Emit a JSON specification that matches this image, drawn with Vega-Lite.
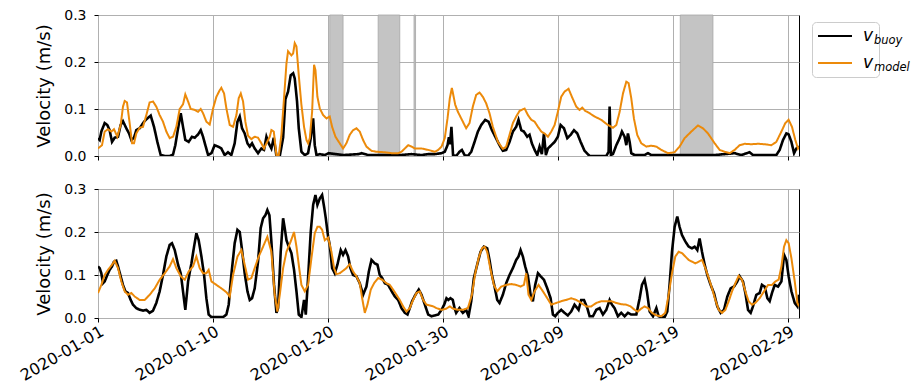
{
"$schema":"https://vega.github.io/schema/vega-lite/v6.json",
"padding":{"left":16,"top":7,"right":0,"bottom":0},
"config":{"font":"DejaVu Sans","view":{"stroke":"black","strokeWidth":1},
"axis":{"domain":false,"grid":true,"gridColor":"#b0b0b0","gridWidth":1,"tickColor":"black","tickSize":4,"labelColor":"black","titleColor":"black","labelFlush":false,"labelOverlap":false,"labelBound":false}},
"datasets":{
"gaps":[{"d0":20.14,"d1":21.3},{"d0":24.35,"d1":26.23},{"d0":27.47,"d1":27.6},{"d0":50.61,"d1":53.45}],
"top":[
{"s":"buoy","d":0,"v":0.038},{"s":"buoy","d":0.145,"v":0.034},{"s":"buoy","d":0.29,"v":0.052},{"s":"buoy","d":0.58,"v":0.07},{"s":"buoy","d":0.81,"v":0.066},{"s":"buoy","d":1.01,"v":0.055},{"s":"buoy","d":1.22,"v":0.03},{"s":"buoy","d":1.45,"v":0.039},{"s":"buoy","d":1.74,"v":0.041},{"s":"buoy","d":1.97,"v":0.066},{"s":"buoy","d":2.17,"v":0.074},{"s":"buoy","d":2.46,"v":0.059},{"s":"buoy","d":2.7,"v":0.048},{"s":"buoy","d":2.9,"v":0.034},{"s":"buoy","d":3.13,"v":0.039},{"s":"buoy","d":3.33,"v":0.055},{"s":"buoy","d":3.62,"v":0.059},{"s":"buoy","d":4.0,"v":0.073},{"s":"buoy","d":4.29,"v":0.08},{"s":"buoy","d":4.58,"v":0.086},{"s":"buoy","d":4.87,"v":0.062},{"s":"buoy","d":5.16,"v":0.03},{"s":"buoy","d":5.45,"v":0.002},{"s":"buoy","d":5.8,"v":0},{"s":"buoy","d":6.23,"v":0},{"s":"buoy","d":6.52,"v":0.003},{"s":"buoy","d":6.72,"v":0.023},{"s":"buoy","d":6.96,"v":0.059},{"s":"buoy","d":7.19,"v":0.091},{"s":"buoy","d":7.39,"v":0.062},{"s":"buoy","d":7.59,"v":0.034},{"s":"buoy","d":7.88,"v":0.03},{"s":"buoy","d":8.17,"v":0.041},{"s":"buoy","d":8.41,"v":0.039},{"s":"buoy","d":8.7,"v":0.046},{"s":"buoy","d":8.93,"v":0.055},{"s":"buoy","d":9.13,"v":0.041},{"s":"buoy","d":9.33,"v":0.023},{"s":"buoy","d":9.57,"v":0.002},{"s":"buoy","d":9.86,"v":0.006},{"s":"buoy","d":10.14,"v":0.023},{"s":"buoy","d":10.43,"v":0.02},{"s":"buoy","d":10.72,"v":0.016},{"s":"buoy","d":11.01,"v":0.002},{"s":"buoy","d":11.3,"v":0.008},{"s":"buoy","d":11.59,"v":0.002},{"s":"buoy","d":11.88,"v":0.027},{"s":"buoy","d":12.12,"v":0.073},{"s":"buoy","d":12.32,"v":0.084},{"s":"buoy","d":12.52,"v":0.059},{"s":"buoy","d":12.75,"v":0.048},{"s":"buoy","d":12.99,"v":0.027},{"s":"buoy","d":13.19,"v":0.02},{"s":"buoy","d":13.39,"v":0.027},{"s":"buoy","d":13.62,"v":0.016},{"s":"buoy","d":13.91,"v":0.006},{"s":"buoy","d":14.2,"v":0.016},{"s":"buoy","d":14.43,"v":0.013},{"s":"buoy","d":14.64,"v":0.041},{"s":"buoy","d":14.84,"v":0.027},{"s":"buoy","d":15.07,"v":0.016},{"s":"buoy","d":15.28,"v":0.039},{"s":"buoy","d":15.51,"v":0},{"s":"buoy","d":15.8,"v":0},{"s":"buoy","d":16.09,"v":0.039},{"s":"buoy","d":16.29,"v":0.121},{"s":"buoy","d":16.52,"v":0.137},{"s":"buoy","d":16.75,"v":0.172},{"s":"buoy","d":16.96,"v":0.176},{"s":"buoy","d":17.1,"v":0.165},{"s":"buoy","d":17.3,"v":0.116},{"s":"buoy","d":17.45,"v":0.059},{"s":"buoy","d":17.68,"v":0.009},{"s":"buoy","d":17.97,"v":0.002},{"s":"buoy","d":18.26,"v":0.006},{"s":"buoy","d":18.49,"v":0.038},{"s":"buoy","d":18.7,"v":0.08},{"s":"buoy","d":18.84,"v":0.023},{"s":"buoy","d":18.99,"v":0.002},{"s":"buoy","d":19.28,"v":0.004},{"s":"buoy","d":19.71,"v":0.002},{"s":"buoy","d":20.05,"v":0.006},{"s":"buoy","d":21.35,"v":0.002},{"s":"buoy","d":22.61,"v":0.004},{"s":"buoy","d":22.9,"v":0.006},{"s":"buoy","d":23.48,"v":0.002},{"s":"buoy","d":24.3,"v":0.002},{"s":"buoy","d":26.3,"v":0.002},{"s":"buoy","d":27.25,"v":0.004},{"s":"buoy","d":28.12,"v":0.002},{"s":"buoy","d":28.7,"v":0.004},{"s":"buoy","d":29.28,"v":0.004},{"s":"buoy","d":29.86,"v":0.006},{"s":"buoy","d":30.14,"v":0.009},{"s":"buoy","d":30.38,"v":0.023},{"s":"buoy","d":30.5,"v":0.04},{"s":"buoy","d":30.6,"v":0.025},{"s":"buoy","d":30.72,"v":0.062},{"s":"buoy","d":30.86,"v":0.002},{"s":"buoy","d":31.13,"v":0},{"s":"buoy","d":31.42,"v":0.009},{"s":"buoy","d":31.63,"v":0.013},{"s":"buoy","d":31.86,"v":0.002},{"s":"buoy","d":32.15,"v":0},{"s":"buoy","d":32.44,"v":0.009},{"s":"buoy","d":32.73,"v":0.03},{"s":"buoy","d":33.02,"v":0.052},{"s":"buoy","d":33.31,"v":0.066},{"s":"buoy","d":33.66,"v":0.077},{"s":"buoy","d":33.95,"v":0.073},{"s":"buoy","d":34.24,"v":0.055},{"s":"buoy","d":34.53,"v":0.041},{"s":"buoy","d":34.9,"v":0.023},{"s":"buoy","d":35.19,"v":0.011},{"s":"buoy","d":35.48,"v":0.013},{"s":"buoy","d":35.77,"v":0.03},{"s":"buoy","d":36.06,"v":0.052},{"s":"buoy","d":36.35,"v":0.062},{"s":"buoy","d":36.55,"v":0.077},{"s":"buoy","d":36.79,"v":0.055},{"s":"buoy","d":37.02,"v":0.052},{"s":"buoy","d":37.31,"v":0.041},{"s":"buoy","d":37.51,"v":0.045},{"s":"buoy","d":37.71,"v":0.027},{"s":"buoy","d":37.95,"v":0.013},{"s":"buoy","d":38.18,"v":0.002},{"s":"buoy","d":38.38,"v":0.02},{"s":"buoy","d":38.58,"v":0.004},{"s":"buoy","d":38.76,"v":0.048},{"s":"buoy","d":38.93,"v":0.002},{"s":"buoy","d":39.11,"v":0.016},{"s":"buoy","d":39.4,"v":0.023},{"s":"buoy","d":39.69,"v":0.03},{"s":"buoy","d":39.97,"v":0.041},{"s":"buoy","d":40.21,"v":0.066},{"s":"buoy","d":40.5,"v":0.059},{"s":"buoy","d":40.79,"v":0.038},{"s":"buoy","d":41.08,"v":0.045},{"s":"buoy","d":41.37,"v":0.055},{"s":"buoy","d":41.66,"v":0.048},{"s":"buoy","d":41.95,"v":0.03},{"s":"buoy","d":42.29,"v":0.011},{"s":"buoy","d":42.73,"v":0},{"s":"buoy","d":43.45,"v":0},{"s":"buoy","d":44.18,"v":0},{"s":"buoy","d":44.38,"v":0.009},{"s":"buoy","d":44.47,"v":0.105},{"s":"buoy","d":44.58,"v":0.002},{"s":"buoy","d":44.76,"v":0.004},{"s":"buoy","d":45.05,"v":0.023},{"s":"buoy","d":45.34,"v":0.038},{"s":"buoy","d":45.54,"v":0.052},{"s":"buoy","d":45.77,"v":0.041},{"s":"buoy","d":45.92,"v":0.023},{"s":"buoy","d":46.06,"v":0.048},{"s":"buoy","d":46.21,"v":0.03},{"s":"buoy","d":46.35,"v":0.006},{"s":"buoy","d":46.64,"v":0.002},{"s":"buoy","d":47.51,"v":0.002},{"s":"buoy","d":47.8,"v":0.006},{"s":"buoy","d":48.09,"v":0.002},{"s":"buoy","d":49.54,"v":0.002},{"s":"buoy","d":50.5,"v":0.002},{"s":"buoy","d":53.55,"v":0.002},{"s":"buoy","d":54.47,"v":0.004},{"s":"buoy","d":55.34,"v":0.006},{"s":"buoy","d":55.92,"v":0.002},{"s":"buoy","d":56.64,"v":0.008},{"s":"buoy","d":56.93,"v":0.002},{"s":"buoy","d":58.24,"v":0.002},{"s":"buoy","d":58.96,"v":0.002},{"s":"buoy","d":59.25,"v":0.013},{"s":"buoy","d":59.54,"v":0.034},{"s":"buoy","d":59.83,"v":0.048},{"s":"buoy","d":60.03,"v":0.046},{"s":"buoy","d":60.27,"v":0.03},{"s":"buoy","d":60.5,"v":0.006},{"s":"buoy","d":60.7,"v":0.016},{"s":"buoy","d":60.93,"v":0.02},
{"s":"model","d":0,"v":0.016},{"s":"model","d":0.348,"v":0.023},{"s":"model","d":0.58,"v":0.052},{"s":"model","d":0.87,"v":0.057},{"s":"model","d":1.16,"v":0.052},{"s":"model","d":1.39,"v":0.057},{"s":"model","d":1.68,"v":0.041},{"s":"model","d":1.97,"v":0.066},{"s":"model","d":2.17,"v":0.105},{"s":"model","d":2.32,"v":0.117},{"s":"model","d":2.52,"v":0.114},{"s":"model","d":2.75,"v":0.07},{"s":"model","d":2.96,"v":0.027},{"s":"model","d":3.13,"v":0.027},{"s":"model","d":3.33,"v":0.048},{"s":"model","d":3.62,"v":0.06},{"s":"model","d":3.91,"v":0.062},{"s":"model","d":4.2,"v":0.087},{"s":"model","d":4.49,"v":0.114},{"s":"model","d":4.78,"v":0.116},{"s":"model","d":5.07,"v":0.105},{"s":"model","d":5.36,"v":0.087},{"s":"model","d":5.65,"v":0.073},{"s":"model","d":5.94,"v":0.052},{"s":"model","d":6.23,"v":0.038},{"s":"model","d":6.52,"v":0.041},{"s":"model","d":6.81,"v":0.062},{"s":"model","d":7.1,"v":0.1},{"s":"model","d":7.39,"v":0.11},{"s":"model","d":7.59,"v":0.131},{"s":"model","d":7.83,"v":0.116},{"s":"model","d":8.06,"v":0.1},{"s":"model","d":8.41,"v":0.098},{"s":"model","d":8.7,"v":0.094},{"s":"model","d":8.93,"v":0.1},{"s":"model","d":9.13,"v":0.091},{"s":"model","d":9.42,"v":0.073},{"s":"model","d":9.71,"v":0.067},{"s":"model","d":10.0,"v":0.101},{"s":"model","d":10.29,"v":0.126},{"s":"model","d":10.58,"v":0.14},{"s":"model","d":10.72,"v":0.145},{"s":"model","d":10.96,"v":0.133},{"s":"model","d":11.16,"v":0.101},{"s":"model","d":11.45,"v":0.066},{"s":"model","d":11.74,"v":0.062},{"s":"model","d":12.03,"v":0.087},{"s":"model","d":12.23,"v":0.123},{"s":"model","d":12.41,"v":0.133},{"s":"model","d":12.61,"v":0.116},{"s":"model","d":12.81,"v":0.073},{"s":"model","d":13.04,"v":0.043},{"s":"model","d":13.33,"v":0.036},{"s":"model","d":13.62,"v":0.041},{"s":"model","d":13.91,"v":0.039},{"s":"model","d":14.2,"v":0.027},{"s":"model","d":14.43,"v":0.016},{"s":"model","d":14.64,"v":0.027},{"s":"model","d":14.93,"v":0.041},{"s":"model","d":15.07,"v":0.055},{"s":"model","d":15.28,"v":0.052},{"s":"model","d":15.51,"v":0.002},{"s":"model","d":15.71,"v":0.001},{"s":"model","d":15.94,"v":0.045},{"s":"model","d":16.17,"v":0.123},{"s":"model","d":16.38,"v":0.197},{"s":"model","d":16.52,"v":0.223},{"s":"model","d":16.81,"v":0.214},{"s":"model","d":16.96,"v":0.218},{"s":"model","d":17.1,"v":0.24},{"s":"model","d":17.25,"v":0.233},{"s":"model","d":17.45,"v":0.172},{"s":"model","d":17.68,"v":0.109},{"s":"model","d":17.91,"v":0.062},{"s":"model","d":18.12,"v":0.034},{"s":"model","d":18.26,"v":0.027},{"s":"model","d":18.41,"v":0.038},{"s":"model","d":18.61,"v":0.094},{"s":"model","d":18.78,"v":0.194},{"s":"model","d":18.9,"v":0.183},{"s":"model","d":19.07,"v":0.126},{"s":"model","d":19.28,"v":0.101},{"s":"model","d":19.57,"v":0.087},{"s":"model","d":19.86,"v":0.08},{"s":"model","d":20.14,"v":0.084},{"s":"model","d":20.35,"v":0.062},{"s":"model","d":20.64,"v":0.041},{"s":"model","d":21.01,"v":0.027},{"s":"model","d":21.3,"v":0.016},{"s":"model","d":21.59,"v":0.027},{"s":"model","d":21.88,"v":0.045},{"s":"model","d":22.17,"v":0.055},{"s":"model","d":22.46,"v":0.059},{"s":"model","d":22.75,"v":0.052},{"s":"model","d":23.04,"v":0.034},{"s":"model","d":23.33,"v":0.02},{"s":"model","d":23.77,"v":0.011},{"s":"model","d":24.2,"v":0.009},{"s":"model","d":24.93,"v":0.008},{"s":"model","d":25.51,"v":0.006},{"s":"model","d":26.09,"v":0.006},{"s":"model","d":26.38,"v":0.009},{"s":"model","d":26.67,"v":0.016},{"s":"model","d":26.96,"v":0.023},{"s":"model","d":27.25,"v":0.02},{"s":"model","d":27.54,"v":0.016},{"s":"model","d":28.12,"v":0.016},{"s":"model","d":28.7,"v":0.013},{"s":"model","d":29.28,"v":0.009},{"s":"model","d":29.57,"v":0.013},{"s":"model","d":29.86,"v":0.02},{"s":"model","d":30.14,"v":0.038},{"s":"model","d":30.38,"v":0.08},{"s":"model","d":30.58,"v":0.123},{"s":"model","d":30.76,"v":0.145},{"s":"model","d":31.05,"v":0.109},{"s":"model","d":31.28,"v":0.094},{"s":"model","d":31.57,"v":0.08},{"s":"model","d":32.0,"v":0.059},{"s":"model","d":32.29,"v":0.07},{"s":"model","d":32.58,"v":0.105},{"s":"model","d":32.87,"v":0.13},{"s":"model","d":33.16,"v":0.135},{"s":"model","d":33.45,"v":0.126},{"s":"model","d":33.74,"v":0.112},{"s":"model","d":34.03,"v":0.091},{"s":"model","d":34.32,"v":0.062},{"s":"model","d":34.76,"v":0.03},{"s":"model","d":35.19,"v":0.015},{"s":"model","d":35.48,"v":0.02},{"s":"model","d":35.77,"v":0.045},{"s":"model","d":36.06,"v":0.07},{"s":"model","d":36.35,"v":0.084},{"s":"model","d":36.64,"v":0.096},{"s":"model","d":37.08,"v":0.101},{"s":"model","d":37.37,"v":0.087},{"s":"model","d":37.66,"v":0.077},{"s":"model","d":37.95,"v":0.073},{"s":"model","d":38.24,"v":0.062},{"s":"model","d":38.53,"v":0.052},{"s":"model","d":38.82,"v":0.048},{"s":"model","d":39.11,"v":0.041},{"s":"model","d":39.4,"v":0.052},{"s":"model","d":39.69,"v":0.066},{"s":"model","d":39.97,"v":0.094},{"s":"model","d":40.26,"v":0.126},{"s":"model","d":40.55,"v":0.137},{"s":"model","d":40.9,"v":0.143},{"s":"model","d":41.19,"v":0.126},{"s":"model","d":41.57,"v":0.105},{"s":"model","d":41.86,"v":0.098},{"s":"model","d":42.09,"v":0.103},{"s":"model","d":42.35,"v":0.096},{"s":"model","d":42.73,"v":0.091},{"s":"model","d":43.16,"v":0.084},{"s":"model","d":43.74,"v":0.077},{"s":"model","d":44.32,"v":0.066},{"s":"model","d":44.76,"v":0.06},{"s":"model","d":45.05,"v":0.066},{"s":"model","d":45.34,"v":0.094},{"s":"model","d":45.63,"v":0.133},{"s":"model","d":45.92,"v":0.158},{"s":"model","d":46.12,"v":0.155},{"s":"model","d":46.35,"v":0.123},{"s":"model","d":46.58,"v":0.08},{"s":"model","d":46.87,"v":0.045},{"s":"model","d":47.22,"v":0.027},{"s":"model","d":47.66,"v":0.02},{"s":"model","d":48.09,"v":0.022},{"s":"model","d":48.53,"v":0.02},{"s":"model","d":48.96,"v":0.013},{"s":"model","d":49.54,"v":0.006},{"s":"model","d":50.12,"v":0.008},{"s":"model","d":50.55,"v":0.02},{"s":"model","d":50.99,"v":0.038},{"s":"model","d":51.57,"v":0.052},{"s":"model","d":52.15,"v":0.065},{"s":"model","d":52.58,"v":0.059},{"s":"model","d":53.02,"v":0.048},{"s":"model","d":53.6,"v":0.027},{"s":"model","d":54.03,"v":0.013},{"s":"model","d":54.47,"v":0.009},{"s":"model","d":54.9,"v":0.006},{"s":"model","d":55.34,"v":0.013},{"s":"model","d":55.77,"v":0.023},{"s":"model","d":56.21,"v":0.026},{"s":"model","d":56.79,"v":0.025},{"s":"model","d":57.37,"v":0.026},{"s":"model","d":57.95,"v":0.025},{"s":"model","d":58.53,"v":0.023},{"s":"model","d":58.96,"v":0.03},{"s":"model","d":59.4,"v":0.052},{"s":"model","d":59.74,"v":0.07},{"s":"model","d":60.03,"v":0.077},{"s":"model","d":60.32,"v":0.062},{"s":"model","d":60.61,"v":0.034},{"s":"model","d":60.84,"v":0.016},{"s":"model","d":60.93,"v":0.02}],
"bottom":[
{"s":"buoy","d":0,"v":0.12},{"s":"buoy","d":0.145,"v":0.116},{"s":"buoy","d":0.29,"v":0.104},{"s":"buoy","d":0.435,"v":0.081},{"s":"buoy","d":0.58,"v":0.085},{"s":"buoy","d":0.81,"v":0.1},{"s":"buoy","d":1.01,"v":0.112},{"s":"buoy","d":1.22,"v":0.12},{"s":"buoy","d":1.39,"v":0.131},{"s":"buoy","d":1.59,"v":0.133},{"s":"buoy","d":1.74,"v":0.12},{"s":"buoy","d":1.97,"v":0.097},{"s":"buoy","d":2.17,"v":0.077},{"s":"buoy","d":2.38,"v":0.062},{"s":"buoy","d":2.61,"v":0.058},{"s":"buoy","d":2.84,"v":0.042},{"s":"buoy","d":3.04,"v":0.031},{"s":"buoy","d":3.33,"v":0.023},{"s":"buoy","d":3.62,"v":0.019},{"s":"buoy","d":3.91,"v":0.017},{"s":"buoy","d":4.2,"v":0.019},{"s":"buoy","d":4.49,"v":0.012},{"s":"buoy","d":4.78,"v":0.017},{"s":"buoy","d":5.07,"v":0.035},{"s":"buoy","d":5.36,"v":0.062},{"s":"buoy","d":5.65,"v":0.1},{"s":"buoy","d":5.94,"v":0.143},{"s":"buoy","d":6.23,"v":0.17},{"s":"buoy","d":6.43,"v":0.174},{"s":"buoy","d":6.67,"v":0.158},{"s":"buoy","d":6.96,"v":0.124},{"s":"buoy","d":7.19,"v":0.104},{"s":"buoy","d":7.39,"v":0.062},{"s":"buoy","d":7.59,"v":0.019},{"s":"buoy","d":7.83,"v":0.085},{"s":"buoy","d":8.12,"v":0.127},{"s":"buoy","d":8.35,"v":0.166},{"s":"buoy","d":8.55,"v":0.197},{"s":"buoy","d":8.75,"v":0.181},{"s":"buoy","d":8.99,"v":0.143},{"s":"buoy","d":9.22,"v":0.1},{"s":"buoy","d":9.42,"v":0.046},{"s":"buoy","d":9.62,"v":0.008},{"s":"buoy","d":9.86,"v":0.002},{"s":"buoy","d":10.29,"v":0.002},{"s":"buoy","d":10.87,"v":0.002},{"s":"buoy","d":11.16,"v":0.008},{"s":"buoy","d":11.36,"v":0.031},{"s":"buoy","d":11.59,"v":0.1},{"s":"buoy","d":11.88,"v":0.174},{"s":"buoy","d":12.12,"v":0.205},{"s":"buoy","d":12.32,"v":0.2},{"s":"buoy","d":12.52,"v":0.158},{"s":"buoy","d":12.75,"v":0.104},{"s":"buoy","d":12.99,"v":0.062},{"s":"buoy","d":13.19,"v":0.042},{"s":"buoy","d":13.39,"v":0.046},{"s":"buoy","d":13.62,"v":0.069},{"s":"buoy","d":13.91,"v":0.131},{"s":"buoy","d":14.14,"v":0.209},{"s":"buoy","d":14.35,"v":0.232},{"s":"buoy","d":14.55,"v":0.239},{"s":"buoy","d":14.72,"v":0.251},{"s":"buoy","d":14.9,"v":0.239},{"s":"buoy","d":15.07,"v":0.178},{"s":"buoy","d":15.3,"v":0.077},{"s":"buoy","d":15.51,"v":0.012},{"s":"buoy","d":15.65,"v":0.023},{"s":"buoy","d":15.88,"v":0.154},{"s":"buoy","d":16.09,"v":0.232},{"s":"buoy","d":16.23,"v":0.209},{"s":"buoy","d":16.38,"v":0.181},{"s":"buoy","d":16.58,"v":0.166},{"s":"buoy","d":16.81,"v":0.151},{"s":"buoy","d":17.04,"v":0.112},{"s":"buoy","d":17.25,"v":0.062},{"s":"buoy","d":17.45,"v":0.008},{"s":"buoy","d":17.68,"v":0.002},{"s":"buoy","d":17.91,"v":0.042},{"s":"buoy","d":18.06,"v":0.008},{"s":"buoy","d":18.26,"v":0.093},{"s":"buoy","d":18.49,"v":0.2},{"s":"buoy","d":18.7,"v":0.263},{"s":"buoy","d":18.9,"v":0.286},{"s":"buoy","d":19.07,"v":0.263},{"s":"buoy","d":19.28,"v":0.278},{"s":"buoy","d":19.48,"v":0.286},{"s":"buoy","d":19.65,"v":0.259},{"s":"buoy","d":19.8,"v":0.232},{"s":"buoy","d":20.0,"v":0.189},{"s":"buoy","d":20.14,"v":0.17},{"s":"buoy","d":20.35,"v":0.116},{"s":"buoy","d":20.58,"v":0.104},{"s":"buoy","d":20.81,"v":0.124},{"s":"buoy","d":21.1,"v":0.158},{"s":"buoy","d":21.3,"v":0.147},{"s":"buoy","d":21.51,"v":0.158},{"s":"buoy","d":21.74,"v":0.143},{"s":"buoy","d":21.94,"v":0.116},{"s":"buoy","d":22.17,"v":0.1},{"s":"buoy","d":22.46,"v":0.097},{"s":"buoy","d":22.75,"v":0.081},{"s":"buoy","d":23.04,"v":0.054},{"s":"buoy","d":23.33,"v":0.073},{"s":"buoy","d":23.54,"v":0.108},{"s":"buoy","d":23.77,"v":0.135},{"s":"buoy","d":24.06,"v":0.127},{"s":"buoy","d":24.29,"v":0.124},{"s":"buoy","d":24.49,"v":0.1},{"s":"buoy","d":24.7,"v":0.093},{"s":"buoy","d":24.93,"v":0.081},{"s":"buoy","d":25.22,"v":0.077},{"s":"buoy","d":25.51,"v":0.063},{"s":"buoy","d":25.8,"v":0.05},{"s":"buoy","d":26.09,"v":0.042},{"s":"buoy","d":26.38,"v":0.023},{"s":"buoy","d":26.67,"v":0.012},{"s":"buoy","d":26.9,"v":0.008},{"s":"buoy","d":27.1,"v":0.023},{"s":"buoy","d":27.3,"v":0.039},{"s":"buoy","d":27.59,"v":0.054},{"s":"buoy","d":27.88,"v":0.066},{"s":"buoy","d":28.12,"v":0.054},{"s":"buoy","d":28.41,"v":0.031},{"s":"buoy","d":28.7,"v":0.008},{"s":"buoy","d":28.99,"v":0.004},{"s":"buoy","d":29.28,"v":0.006},{"s":"buoy","d":29.57,"v":0.008},{"s":"buoy","d":29.86,"v":0.019},{"s":"buoy","d":30.09,"v":0.031},{"s":"buoy","d":30.29,"v":0.046},{"s":"buoy","d":30.45,"v":0.042},{"s":"buoy","d":30.64,"v":0.046},{"s":"buoy","d":30.84,"v":0.042},{"s":"buoy","d":30.99,"v":0.023},{"s":"buoy","d":31.13,"v":0.012},{"s":"buoy","d":31.42,"v":0.023},{"s":"buoy","d":31.71,"v":0.012},{"s":"buoy","d":32.0,"v":0.019},{"s":"buoy","d":32.21,"v":0.004},{"s":"buoy","d":32.44,"v":0.039},{"s":"buoy","d":32.67,"v":0.093},{"s":"buoy","d":32.96,"v":0.124},{"s":"buoy","d":33.25,"v":0.154},{"s":"buoy","d":33.54,"v":0.166},{"s":"buoy","d":33.83,"v":0.162},{"s":"buoy","d":34.03,"v":0.135},{"s":"buoy","d":34.24,"v":0.1},{"s":"buoy","d":34.47,"v":0.073},{"s":"buoy","d":34.7,"v":0.042},{"s":"buoy","d":34.9,"v":0.035},{"s":"buoy","d":35.19,"v":0.054},{"s":"buoy","d":35.48,"v":0.081},{"s":"buoy","d":35.77,"v":0.1},{"s":"buoy","d":36.06,"v":0.116},{"s":"buoy","d":36.35,"v":0.135},{"s":"buoy","d":36.55,"v":0.143},{"s":"buoy","d":36.73,"v":0.158},{"s":"buoy","d":36.93,"v":0.143},{"s":"buoy","d":37.13,"v":0.12},{"s":"buoy","d":37.37,"v":0.097},{"s":"buoy","d":37.6,"v":0.054},{"s":"buoy","d":37.8,"v":0.039},{"s":"buoy","d":38.0,"v":0.077},{"s":"buoy","d":38.24,"v":0.104},{"s":"buoy","d":38.47,"v":0.097},{"s":"buoy","d":38.76,"v":0.089},{"s":"buoy","d":39.05,"v":0.069},{"s":"buoy","d":39.34,"v":0.046},{"s":"buoy","d":39.54,"v":0.008},{"s":"buoy","d":39.74,"v":0.004},{"s":"buoy","d":39.97,"v":0.012},{"s":"buoy","d":40.26,"v":0.019},{"s":"buoy","d":40.55,"v":0.012},{"s":"buoy","d":40.84,"v":0.006},{"s":"buoy","d":41.13,"v":0.015},{"s":"buoy","d":41.42,"v":0.031},{"s":"buoy","d":41.77,"v":0.019},{"s":"buoy","d":42.0,"v":0.042},{"s":"buoy","d":42.24,"v":0.042},{"s":"buoy","d":42.53,"v":0.023},{"s":"buoy","d":42.73,"v":0.004},{"s":"buoy","d":43.02,"v":0.004},{"s":"buoy","d":43.31,"v":0.019},{"s":"buoy","d":43.6,"v":0.023},{"s":"buoy","d":43.89,"v":0.008},{"s":"buoy","d":44.18,"v":0.019},{"s":"buoy","d":44.47,"v":0.042},{"s":"buoy","d":44.67,"v":0.031},{"s":"buoy","d":44.9,"v":0.023},{"s":"buoy","d":45.19,"v":0.004},{"s":"buoy","d":45.48,"v":0.012},{"s":"buoy","d":45.77,"v":0.004},{"s":"buoy","d":46.06,"v":0.012},{"s":"buoy","d":46.35,"v":0.008},{"s":"buoy","d":46.79,"v":0.008},{"s":"buoy","d":47.08,"v":0.046},{"s":"buoy","d":47.28,"v":0.077},{"s":"buoy","d":47.51,"v":0.089},{"s":"buoy","d":47.71,"v":0.062},{"s":"buoy","d":47.95,"v":0.015},{"s":"buoy","d":48.24,"v":0.004},{"s":"buoy","d":48.53,"v":0.023},{"s":"buoy","d":48.73,"v":0.004},{"s":"buoy","d":48.96,"v":0.002},{"s":"buoy","d":49.25,"v":0.002},{"s":"buoy","d":49.48,"v":0.015},{"s":"buoy","d":49.68,"v":0.077},{"s":"buoy","d":49.89,"v":0.154},{"s":"buoy","d":50.12,"v":0.212},{"s":"buoy","d":50.35,"v":0.236},{"s":"buoy","d":50.55,"v":0.212},{"s":"buoy","d":50.76,"v":0.193},{"s":"buoy","d":51.05,"v":0.178},{"s":"buoy","d":51.34,"v":0.166},{"s":"buoy","d":51.63,"v":0.162},{"s":"buoy","d":51.86,"v":0.166},{"s":"buoy","d":52.09,"v":0.158},{"s":"buoy","d":52.29,"v":0.185},{"s":"buoy","d":52.5,"v":0.154},{"s":"buoy","d":52.73,"v":0.124},{"s":"buoy","d":52.96,"v":0.1},{"s":"buoy","d":53.25,"v":0.077},{"s":"buoy","d":53.54,"v":0.058},{"s":"buoy","d":53.83,"v":0.027},{"s":"buoy","d":54.12,"v":0.012},{"s":"buoy","d":54.41,"v":0.019},{"s":"buoy","d":54.7,"v":0.05},{"s":"buoy","d":54.99,"v":0.069},{"s":"buoy","d":55.28,"v":0.073},{"s":"buoy","d":55.57,"v":0.085},{"s":"buoy","d":55.77,"v":0.097},{"s":"buoy","d":56.06,"v":0.085},{"s":"buoy","d":56.27,"v":0.058},{"s":"buoy","d":56.5,"v":0.019},{"s":"buoy","d":56.73,"v":0.012},{"s":"buoy","d":56.93,"v":0.027},{"s":"buoy","d":57.22,"v":0.054},{"s":"buoy","d":57.51,"v":0.058},{"s":"buoy","d":57.71,"v":0.077},{"s":"buoy","d":57.95,"v":0.073},{"s":"buoy","d":58.18,"v":0.046},{"s":"buoy","d":58.38,"v":0.039},{"s":"buoy","d":58.58,"v":0.058},{"s":"buoy","d":58.82,"v":0.077},{"s":"buoy","d":59.11,"v":0.073},{"s":"buoy","d":59.4,"v":0.085},{"s":"buoy","d":59.63,"v":0.147},{"s":"buoy","d":59.83,"v":0.135},{"s":"buoy","d":60.03,"v":0.097},{"s":"buoy","d":60.27,"v":0.062},{"s":"buoy","d":60.56,"v":0.035},{"s":"buoy","d":60.79,"v":0.027},{"s":"buoy","d":60.93,"v":0.054},
{"s":"model","d":0,"v":0.058},{"s":"model","d":0.29,"v":0.077},{"s":"model","d":0.58,"v":0.1},{"s":"model","d":0.87,"v":0.112},{"s":"model","d":1.22,"v":0.124},{"s":"model","d":1.45,"v":0.133},{"s":"model","d":1.74,"v":0.116},{"s":"model","d":2.03,"v":0.085},{"s":"model","d":2.32,"v":0.062},{"s":"model","d":2.61,"v":0.054},{"s":"model","d":2.9,"v":0.058},{"s":"model","d":3.19,"v":0.05},{"s":"model","d":3.62,"v":0.042},{"s":"model","d":4.06,"v":0.042},{"s":"model","d":4.49,"v":0.054},{"s":"model","d":4.93,"v":0.069},{"s":"model","d":5.36,"v":0.089},{"s":"model","d":5.8,"v":0.104},{"s":"model","d":6.23,"v":0.12},{"s":"model","d":6.52,"v":0.137},{"s":"model","d":6.81,"v":0.116},{"s":"model","d":7.19,"v":0.097},{"s":"model","d":7.54,"v":0.089},{"s":"model","d":7.88,"v":0.108},{"s":"model","d":8.26,"v":0.12},{"s":"model","d":8.55,"v":0.143},{"s":"model","d":8.84,"v":0.116},{"s":"model","d":9.13,"v":0.104},{"s":"model","d":9.42,"v":0.104},{"s":"model","d":9.62,"v":0.112},{"s":"model","d":9.86,"v":0.085},{"s":"model","d":10.29,"v":0.077},{"s":"model","d":10.72,"v":0.069},{"s":"model","d":11.16,"v":0.06},{"s":"model","d":11.45,"v":0.05},{"s":"model","d":11.74,"v":0.1},{"s":"model","d":12.12,"v":0.143},{"s":"model","d":12.46,"v":0.158},{"s":"model","d":12.75,"v":0.124},{"s":"model","d":13.04,"v":0.089},{"s":"model","d":13.33,"v":0.093},{"s":"model","d":13.62,"v":0.116},{"s":"model","d":13.97,"v":0.143},{"s":"model","d":14.35,"v":0.166},{"s":"model","d":14.72,"v":0.189},{"s":"model","d":15.07,"v":0.154},{"s":"model","d":15.36,"v":0.054},{"s":"model","d":15.59,"v":0.015},{"s":"model","d":15.8,"v":0.054},{"s":"model","d":16.09,"v":0.116},{"s":"model","d":16.38,"v":0.154},{"s":"model","d":16.75,"v":0.178},{"s":"model","d":17.04,"v":0.2},{"s":"model","d":17.25,"v":0.166},{"s":"model","d":17.45,"v":0.124},{"s":"model","d":17.68,"v":0.077},{"s":"model","d":17.97,"v":0.062},{"s":"model","d":18.26,"v":0.077},{"s":"model","d":18.55,"v":0.139},{"s":"model","d":18.84,"v":0.197},{"s":"model","d":19.07,"v":0.212},{"s":"model","d":19.28,"v":0.212},{"s":"model","d":19.48,"v":0.205},{"s":"model","d":19.71,"v":0.181},{"s":"model","d":20.0,"v":0.187},{"s":"model","d":20.29,"v":0.154},{"s":"model","d":20.52,"v":0.116},{"s":"model","d":20.72,"v":0.102},{"s":"model","d":21.01,"v":0.104},{"s":"model","d":21.3,"v":0.11},{"s":"model","d":21.59,"v":0.116},{"s":"model","d":21.88,"v":0.125},{"s":"model","d":22.17,"v":0.108},{"s":"model","d":22.46,"v":0.097},{"s":"model","d":22.75,"v":0.081},{"s":"model","d":22.96,"v":0.046},{"s":"model","d":23.19,"v":0.012},{"s":"model","d":23.42,"v":0.031},{"s":"model","d":23.71,"v":0.066},{"s":"model","d":24.0,"v":0.081},{"s":"model","d":24.35,"v":0.093},{"s":"model","d":24.7,"v":0.089},{"s":"model","d":25.07,"v":0.081},{"s":"model","d":25.36,"v":0.077},{"s":"model","d":25.65,"v":0.066},{"s":"model","d":25.94,"v":0.054},{"s":"model","d":26.23,"v":0.042},{"s":"model","d":26.52,"v":0.027},{"s":"model","d":26.81,"v":0.015},{"s":"model","d":27.1,"v":0.023},{"s":"model","d":27.39,"v":0.042},{"s":"model","d":27.68,"v":0.058},{"s":"model","d":27.97,"v":0.062},{"s":"model","d":28.26,"v":0.042},{"s":"model","d":28.55,"v":0.031},{"s":"model","d":28.84,"v":0.029},{"s":"model","d":29.13,"v":0.027},{"s":"model","d":29.42,"v":0.023},{"s":"model","d":29.86,"v":0.019},{"s":"model","d":30.29,"v":0.022},{"s":"model","d":30.58,"v":0.027},{"s":"model","d":30.84,"v":0.022},{"s":"model","d":31.28,"v":0.019},{"s":"model","d":31.71,"v":0.019},{"s":"model","d":32.15,"v":0.023},{"s":"model","d":32.5,"v":0.054},{"s":"model","d":32.79,"v":0.104},{"s":"model","d":33.08,"v":0.139},{"s":"model","d":33.37,"v":0.162},{"s":"model","d":33.6,"v":0.166},{"s":"model","d":33.83,"v":0.154},{"s":"model","d":34.12,"v":0.112},{"s":"model","d":34.41,"v":0.077},{"s":"model","d":34.7,"v":0.062},{"s":"model","d":35.05,"v":0.073},{"s":"model","d":35.48,"v":0.077},{"s":"model","d":35.92,"v":0.079},{"s":"model","d":36.35,"v":0.077},{"s":"model","d":36.73,"v":0.073},{"s":"model","d":37.02,"v":0.077},{"s":"model","d":37.22,"v":0.104},{"s":"model","d":37.42,"v":0.054},{"s":"model","d":37.66,"v":0.042},{"s":"model","d":37.95,"v":0.062},{"s":"model","d":38.29,"v":0.077},{"s":"model","d":38.67,"v":0.062},{"s":"model","d":39.05,"v":0.046},{"s":"model","d":39.4,"v":0.031},{"s":"model","d":39.83,"v":0.035},{"s":"model","d":40.26,"v":0.039},{"s":"model","d":40.7,"v":0.042},{"s":"model","d":41.13,"v":0.046},{"s":"model","d":41.57,"v":0.042},{"s":"model","d":42.0,"v":0.035},{"s":"model","d":42.44,"v":0.027},{"s":"model","d":42.87,"v":0.027},{"s":"model","d":43.31,"v":0.035},{"s":"model","d":43.74,"v":0.039},{"s":"model","d":44.18,"v":0.039},{"s":"model","d":44.61,"v":0.039},{"s":"model","d":45.05,"v":0.035},{"s":"model","d":45.48,"v":0.032},{"s":"model","d":45.92,"v":0.031},{"s":"model","d":46.29,"v":0.027},{"s":"model","d":46.64,"v":0.019},{"s":"model","d":46.93,"v":0.015},{"s":"model","d":47.22,"v":0.022},{"s":"model","d":47.51,"v":0.027},{"s":"model","d":47.8,"v":0.023},{"s":"model","d":48.15,"v":0.012},{"s":"model","d":48.53,"v":0.006},{"s":"model","d":48.96,"v":0.004},{"s":"model","d":49.31,"v":0.012},{"s":"model","d":49.6,"v":0.054},{"s":"model","d":49.89,"v":0.104},{"s":"model","d":50.18,"v":0.143},{"s":"model","d":50.47,"v":0.154},{"s":"model","d":50.76,"v":0.151},{"s":"model","d":51.05,"v":0.143},{"s":"model","d":51.34,"v":0.135},{"s":"model","d":51.63,"v":0.131},{"s":"model","d":51.92,"v":0.127},{"s":"model","d":52.21,"v":0.131},{"s":"model","d":52.5,"v":0.135},{"s":"model","d":52.79,"v":0.116},{"s":"model","d":53.08,"v":0.093},{"s":"model","d":53.37,"v":0.069},{"s":"model","d":53.66,"v":0.042},{"s":"model","d":53.95,"v":0.019},{"s":"model","d":54.24,"v":0.012},{"s":"model","d":54.53,"v":0.019},{"s":"model","d":54.82,"v":0.039},{"s":"model","d":55.11,"v":0.062},{"s":"model","d":55.4,"v":0.081},{"s":"model","d":55.69,"v":0.098},{"s":"model","d":55.97,"v":0.089},{"s":"model","d":56.27,"v":0.062},{"s":"model","d":56.55,"v":0.039},{"s":"model","d":56.84,"v":0.031},{"s":"model","d":57.13,"v":0.035},{"s":"model","d":57.51,"v":0.046},{"s":"model","d":57.89,"v":0.062},{"s":"model","d":58.24,"v":0.077},{"s":"model","d":58.58,"v":0.077},{"s":"model","d":58.87,"v":0.085},{"s":"model","d":59.16,"v":0.089},{"s":"model","d":59.4,"v":0.12},{"s":"model","d":59.63,"v":0.166},{"s":"model","d":59.83,"v":0.181},{"s":"model","d":60.03,"v":0.174},{"s":"model","d":60.27,"v":0.139},{"s":"model","d":60.56,"v":0.085},{"s":"model","d":60.79,"v":0.035},{"s":"model","d":60.93,"v":0.027}]
},
"spacing":17,
"vconcat":[
{"width":701,"height":141,
"layer":[
{"data":{"name":"gaps"},"mark":{"type":"rect","fill":"#c4c4c4","stroke":"#a6a6a6","strokeWidth":0.8},
"encoding":{"x":{"field":"d0","type":"quantitative","scale":{"domain":[0,60.93],"nice":false,"zero":false},"axis":{"values":[0,10,20,30,40,50,60],"labels":false,"title":null}},"x2":{"field":"d1"}}},
{"data":{"name":"top"},"transform":[{"filter":"datum.s == 'buoy'"}],"mark":{"type":"line","strokeWidth":2.6,"clip":true},
"encoding":{"x":{"field":"d","type":"quantitative"},"y":{"field":"v","type":"quantitative","scale":{"domain":[0,0.3],"nice":false},"axis":{"values":[0,0.1,0.2,0.3],"format":".1f","title":"Velocity (m/s)","labelFontSize":14,"titleFontSize":18,"titleFontWeight":"normal","labelPadding":8,"titlePadding":10}},
"color":{"field":"s","type":"nominal","scale":{"domain":["buoy","model"],"range":["black","#ec8a0a"]},"legend":{"orient":"none","legendX":714,"legendY":7,"title":null,"symbolType":"stroke","symbolSize":1156,"symbolStrokeWidth":2,"labelExpr":"'v\u00a0\u00a0\u00a0\u00a0\u00a0'","labelFontSize":17,"labelFontStyle":"italic","labelColor":"black","labelOffset":10,"clipHeight":18,"rowPadding":9,"padding":5,"strokeColor":"#cccccc","cornerRadius":4,"fillColor":"white","zindex":0}},
"strokeDash":{"field":"s","type":"nominal","scale":{"range":[[1,0],[1,0]]},"legend":{"orient":"none","legendX":714,"legendY":12,"title":null,"symbolType":"stroke","symbolSize":1156,"symbolStrokeWidth":2,"symbolOpacity":0,"labelFontSize":11.5,"labelFontStyle":"italic","labelColor":"black","labelOffset":21,"clipHeight":18,"rowPadding":9,"padding":5,"zindex":1}}}},
{"data":{"name":"top"},"transform":[{"filter":"datum.s == 'model'"}],"mark":{"type":"line","strokeWidth":2,"clip":true},
"encoding":{"x":{"field":"d","type":"quantitative"},"y":{"field":"v","type":"quantitative"},"color":{"field":"s","type":"nominal"},"strokeDash":{"field":"s","type":"nominal"}}}
]},
{"width":701,"height":129,
"layer":[
{"data":{"name":"bottom"},"transform":[{"filter":"datum.s == 'buoy'"}],"mark":{"type":"line","strokeWidth":2.6,"clip":true},
"encoding":{"x":{"field":"d","type":"quantitative","scale":{"domain":[0,60.93],"nice":false,"zero":false},"axis":{"values":[0,10,20,30,40,50,60],"title":null,"labelExpr":"datum.value == 0 ? '2020-01-01' : timeFormat(datetime(2019, 11, 31 + datum.value), '%Y-%m-%d')","labelAngle":-30,"labelAlign":"right","labelBaseline":"top","labelFontSize":16,"labelPadding":1}},
"y":{"field":"v","type":"quantitative","scale":{"domain":[0,0.3],"nice":false},"axis":{"values":[0,0.1,0.2,0.3],"format":".1f","title":"Velocity (m/s)","labelFontSize":14,"titleFontSize":18,"titleFontWeight":"normal","labelPadding":8,"titlePadding":10}},
"color":{"field":"s","type":"nominal"},"strokeDash":{"field":"s","type":"nominal"}}},
{"data":{"name":"bottom"},"transform":[{"filter":"datum.s == 'model'"}],"mark":{"type":"line","strokeWidth":2,"clip":true},
"encoding":{"x":{"field":"d","type":"quantitative"},"y":{"field":"v","type":"quantitative"},"color":{"field":"s","type":"nominal"},"strokeDash":{"field":"s","type":"nominal"}}}
]}
]
}
